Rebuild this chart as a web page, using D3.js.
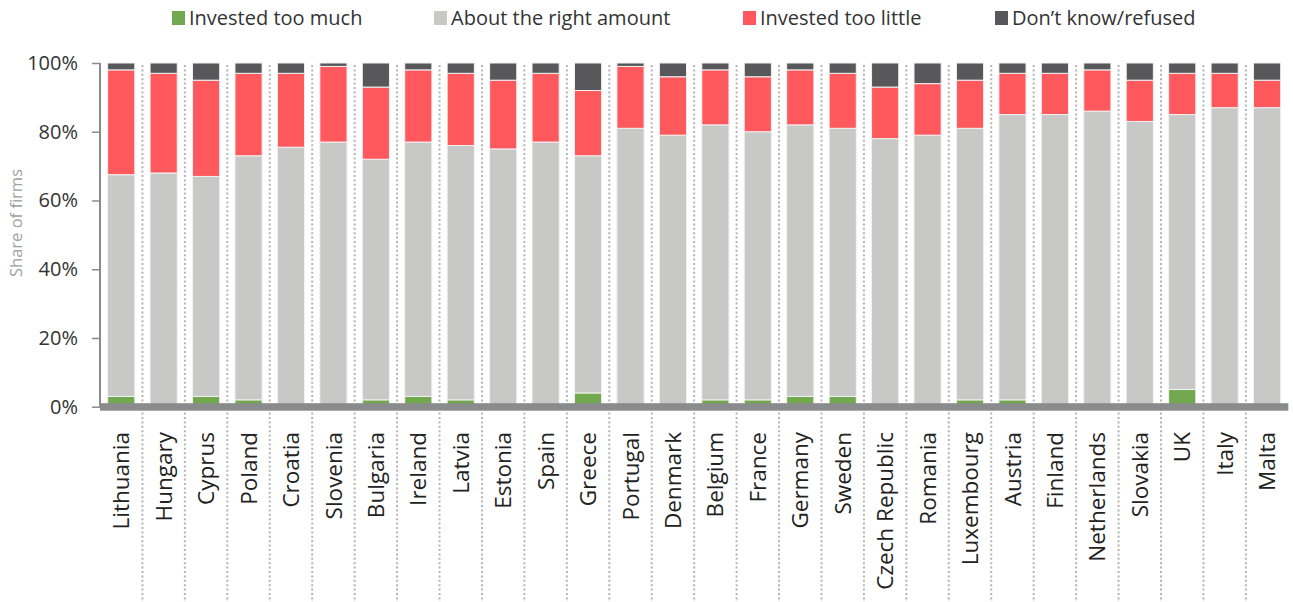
<!DOCTYPE html>
<html>
<head>
<meta charset="utf-8">
<script src="https://cdn.jsdelivr.net/npm/d3@7"></script>
<style>
    body { margin: 0; background: #fff; }
    svg { display: block; font-family: "Open Sans", "Noto Sans", sans-serif; }
</style>
</head>
<body>
<script>
const countries = ["Lithuania", "Hungary", "Cyprus", "Poland", "Croatia", "Slovenia", "Bulgaria", "Ireland",
    "Latvia", "Estonia", "Spain", "Greece", "Portugal", "Denmark", "Belgium", "France", "Germany", "Sweden",
    "Czech Republic", "Romania", "Luxembourg", "Austria", "Finland", "Netherlands", "Slovakia", "UK", "Italy", "Malta"]

const tooMuch   = [3, 0, 3, 2, 0, 0, 2, 3, 2, 0, 0, 4, 0, 0, 2, 2, 3, 3, 0, 0, 2, 2, 0, 0, 0, 5, 0, 0]
const aboutRight = [64.5, 68, 64, 71, 75.5, 77, 70, 74, 74, 75, 77, 69, 81, 79, 80, 78, 79, 78, 78, 79, 79, 83, 85, 86, 83, 80, 87, 87]
const tooLittle = [30.5, 29, 28, 24, 21.5, 22, 21, 21, 21, 20, 20, 19, 18, 17, 16, 16, 16, 16, 15, 15, 14, 12, 12, 12, 12, 12, 10, 8]
const dontKnow  = [2, 3, 5, 3, 3, 1, 7, 2, 3, 5, 3, 8, 1, 4, 2, 4, 2, 3, 7, 6, 5, 3, 3, 2, 5, 3, 3, 5]

const seriesNames = ["Invested too much", "About the right amount", "Invested too little", "Don\u2019t know/refused"]
const seriesKeys = ["tooMuch", "aboutRight", "tooLittle", "dontKnow"]
const seriesColors = ["#72a84e", "#c8c8c6", "#ff585d", "#58585a"]
const yTicks = [0, 20, 40, 60, 80, 100]

const svgWidth = 1293
const svgHeight = 602
const margin = { left: 100, top: 63 }

const rows = countries.map((c, i) => ({
    country: c,
    tooMuch: tooMuch[i],
    aboutRight: aboutRight[i],
    tooLittle: tooLittle[i],
    dontKnow: dontKnow[i]
}))

const svg = d3.select("body").append("svg")
    .attr("width", svgWidth)
    .attr("height", svgHeight)

const xScale = d3.scaleBand()
    .domain(countries)
    .range([margin.left, margin.left + 42.44 * countries.length])
    .paddingInner(0.36)
    .paddingOuter(0.18)

const yScale = d3.scaleLinear()
    .domain([0, 100])
    .range([406.7, margin.top])

/* dotted separators between countries */
svg.append("g")
    .selectAll("line")
    .data(countries.slice(1))
    .enter()
    .append("line")
    .attr("x1", (d) => xScale(d) - xScale.step() * xScale.paddingInner() / 2)
    .attr("x2", (d) => xScale(d) - xScale.step() * xScale.paddingInner() / 2)
    .attr("y1", margin.top + 2)
    .attr("y2", svgHeight)
    .attr("stroke", "#b4b4b4")
    .attr("stroke-width", 2)
    .attr("stroke-dasharray", "2,2.4")

/* stacked bars */
const stacked = d3.stack().keys(seriesKeys)(rows)

svg.append("g")
    .selectAll("g")
    .data(stacked)
    .enter()
    .append("g")
    .attr("fill", (d, i) => seriesColors[i])
    .selectAll("rect")
    .data((d) => d.filter((p) => p[1] - p[0] > 0))
    .enter()
    .append("rect")
    .attr("x", (d) => xScale(d.data.country))
    .attr("width", xScale.bandwidth())
    .attr("y", (d) => yScale(d[1]))
    .attr("height", (d) => yScale(d[0]) - yScale(d[1]))
    .attr("stroke", "#f2f2f2")
    .attr("stroke-width", 1)

/* thick baseline */
svg.append("rect")
    .attr("x", margin.left)
    .attr("y", yScale(0) - 3.5)
    .attr("width", xScale.range()[1] - margin.left)
    .attr("height", 7.5)
    .attr("fill", "#8a8b8c")

/* y axis */
const yAxis = d3.axisLeft(yScale)
    .tickValues(yTicks)
    .tickFormat((d) => d + "%")
    .tickSize(8)
    .tickPadding(14)

const yAxisG = svg.append("g")
    .attr("transform", `translate(${margin.left}, 0)`)
    .call(yAxis)
yAxisG.select(".domain").attr("stroke", "#8a8b8c").attr("stroke-width", 2)
    .attr("d", `M0,${yScale(100)}V${yScale(0)}`)
yAxisG.selectAll(".tick line").attr("stroke", "#8a8b8c").attr("stroke-width", 1.5)
yAxisG.selectAll(".tick text")
    .attr("fill", "#333")
    .style("font-size", "20px")
    .style("font-family", "\"Open Sans\", sans-serif")

svg.append("text")
    .attr("transform", `translate(22, 223) rotate(-90)`)
    .attr("text-anchor", "middle")
    .attr("fill", "#a0a0a0")
    .style("font-size", "16.5px")
    .text("Share of firms")

/* country labels */
svg.append("g")
    .selectAll("text")
    .data(countries)
    .enter()
    .append("text")
    .attr("transform", (d) => `translate(${xScale(d) + xScale.bandwidth() / 2}, 432) rotate(-90)`)
    .attr("text-anchor", "end")
    .attr("dy", "0.36em")
    .attr("fill", "#222")
    .style("font-size", "22.5px")
    .text((d) => d)

/* legend */
const legendX = [172, 434, 743, 995]
const legend = svg.append("g")
    .selectAll("g")
    .data(seriesNames)
    .enter()
    .append("g")
    .attr("transform", (d, i) => `translate(${legendX[i]}, 18)`)

legend.append("rect")
    .attr("x", 0)
    .attr("y", -7)
    .attr("width", 13)
    .attr("height", 14)
    .attr("fill", (d, i) => seriesColors[i])

legend.append("text")
    .attr("x", 17)
    .attr("dy", "0.35em")
    .attr("fill", "#333")
    .style("font-size", "20px")
    .text((d) => d)
</script>
</body>
</html>
